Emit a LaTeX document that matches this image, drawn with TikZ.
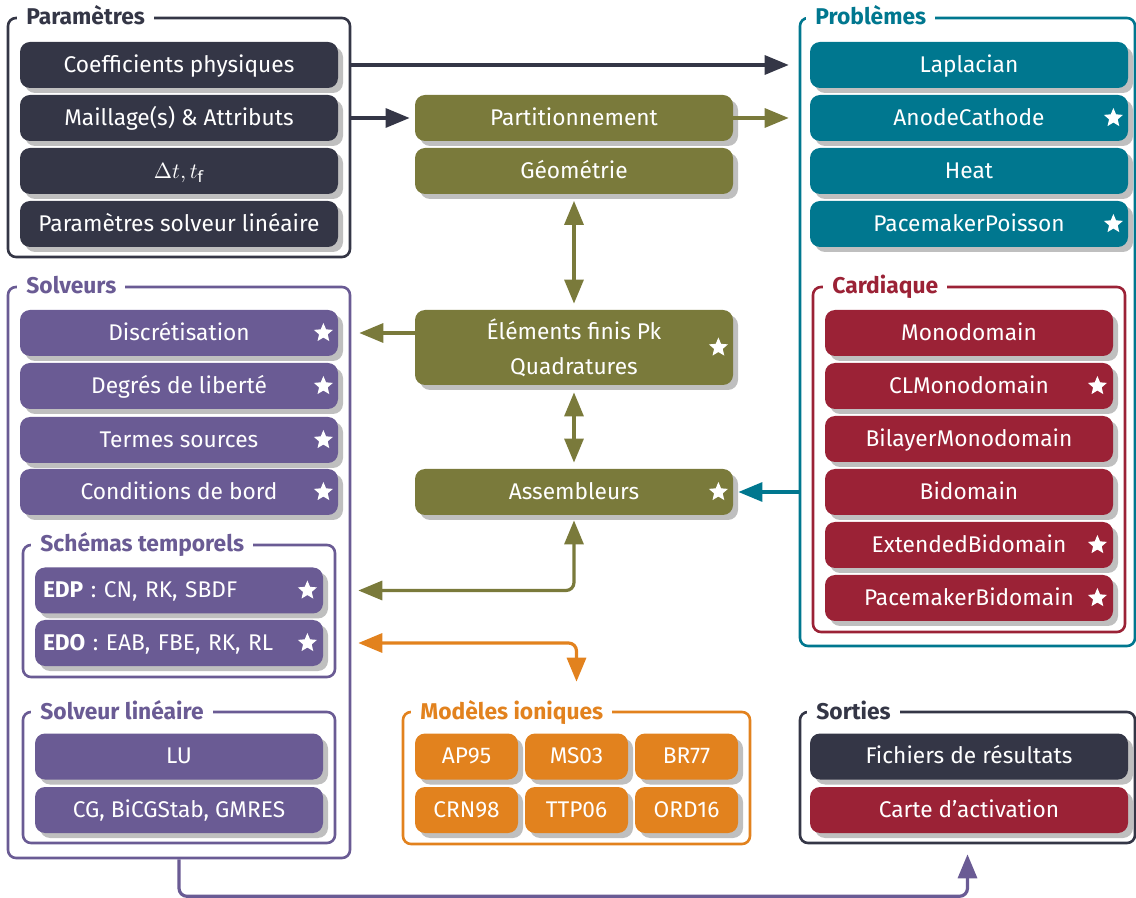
\documentclass[tikz,border=0pt]{standalone}
\usepackage{fontspec}
\setmainfont{Fira Sans}
\usetikzlibrary{shapes.geometric,shadows,arrows.meta,calc}
\definecolor{cnavy}{HTML}{343646}
\definecolor{cteal}{HTML}{00778F}
\definecolor{ccrim}{HTML}{9B2236}
\definecolor{cpurp}{HTML}{6A5B94}
\definecolor{colive}{HTML}{7A7A3B}
\definecolor{corange}{HTML}{E2821E}
\begin{document}
\begin{tikzpicture}[x=0.5pt,y=-0.5pt,
  blk/.style={rounded corners=5pt, text=white, font=\fontsize{11.35}{13.5}\selectfont,
    minimum height=23pt, inner sep=0pt, text height=9pt, text depth=1.8pt,
    drop shadow={shadow xshift=2.5pt, shadow yshift=-2.5pt, fill=black!25, opacity=1}},
  wbox/.style={blk, minimum width=159pt},
  nbox/.style={blk, minimum width=144pt},
  ibox/.style={blk, minimum width=51.5pt},
  lbox/.style={blk, minimum width=144pt, text width=136pt, inner xsep=4pt, align=left},
  frm/.style={draw, line width=1.3pt, rounded corners=4pt, inner sep=0pt},
  ftitle/.style={fill=white, font=\bfseries\fontsize{11.4}{13}\selectfont, anchor=base west,
    inner xsep=4.5pt, inner ysep=1.5pt},
  starsym/.style={star, star points=5, star point ratio=2.2, fill=white, draw=none,
    minimum size=10pt, inner sep=0pt},
  arr/.style={line width=1.6pt, -{Triangle[length=12pt,width=9.5pt]}},
  darr/.style={line width=1.6pt, {Triangle[length=12pt,width=9.5pt]}-{Triangle[length=12pt,width=9.5pt]}}
]
\useasboundingbox (0,0) rectangle (1136,898);

% ---------- frames
\node[frm, cnavy, minimum width=171pt, minimum height=119.5pt] (fparam) at (179,137.5) {};
\node[frm, cteal, minimum width=167.5pt, minimum height=314pt] (fprob) at (967.5,332) {};
\node[frm, ccrim, minimum width=156pt, minimum height=172.5pt] (fcard) at (969,459.5) {};
\node[frm, cpurp, minimum width=171pt, minimum height=285.5pt] (fsolv) at (179,572.5) {};
\node[frm, cpurp, minimum width=156pt, minimum height=66pt] (fsch) at (179,611) {};
\node[frm, cpurp, minimum width=156pt, minimum height=65.5pt] (flin) at (179,777.5) {};
\node[frm, corange, minimum width=173.5pt, minimum height=66pt] (fion) at (576.5,778) {};
\node[frm, cnavy, minimum width=167.5pt, minimum height=65.5pt] (fsort) at (967.5,777.5) {};

% ---------- Parametres
\node[wbox, fill=cnavy] (coef) at (179,65) {Coefficients physiques};
\node[wbox, fill=cnavy] (mail) at (179,118) {Maillage(s) \& Attributs};
\node[wbox, fill=cnavy] (dt) at (179,171) {$\Delta t, t_{\mathrm{f}}$};
\node[wbox, fill=cnavy] (psl) at (179,224) {Paramètres solveur linéaire};

% ---------- Problemes
\node[wbox, fill=cteal] (lap) at (969,65) {Laplacian};
\node[wbox, fill=cteal] (anod) at (969,118) {AnodeCathode};
\node[wbox, fill=cteal] (heat) at (969,171) {Heat};
\node[wbox, fill=cteal] (ppo) at (969,224) {PacemakerPoisson};

% ---------- Cardiaque
\node[nbox, fill=ccrim] (mono) at (969,333) {Monodomain};
\node[nbox, fill=ccrim] (clm) at (969,386) {CLMonodomain};
\node[nbox, fill=ccrim] (bil) at (969,439) {BilayerMonodomain};
\node[nbox, fill=ccrim] (bid) at (969,492) {Bidomain};
\node[nbox, fill=ccrim] (ext) at (969,545) {ExtendedBidomain};
\node[nbox, fill=ccrim] (pbi) at (969,598) {PacemakerBidomain};

% ---------- Solveurs
\node[wbox, fill=cpurp] (disc) at (179,333) {Discrétisation};
\node[wbox, fill=cpurp] (ddl) at (179,386) {Degrés de liberté};
\node[wbox, fill=cpurp] (src) at (179,440) {Termes sources};
\node[wbox, fill=cpurp] (cond) at (179,492) {Conditions de bord};
\node[lbox, fill=cpurp] (edp) at (179,590.5) {\textbf{EDP} : CN, RK, SBDF};
\node[lbox, fill=cpurp] (edo) at (179,643) {\textbf{EDO} : EAB, FBE, RK, RL};
\node[nbox, fill=cpurp] (lu) at (179,756.5) {LU};
\node[nbox, fill=cpurp] (cg) at (179,810) {CG, BiCGStab, GMRES};

% ---------- middle
\node[wbox, fill=colive] (part) at (574,118) {Partitionnement};
\node[wbox, fill=colive] (geo) at (574,171) {Géométrie};
\node[wbox, fill=colive, minimum height=37.5pt, text height=, text depth=, align=center,
  font=\fontsize{11.35}{17.5}\selectfont] (ef) at (574,347.5) {Éléments finis Pk\\Quadratures};
\node[wbox, fill=colive] (ass) at (574,492) {Assembleurs};

% ---------- ioniques
\node[ibox, fill=corange] (ap) at (466.5,756.5) {AP95};
\node[ibox, fill=corange] (ms) at (576.5,756.5) {MS03};
\node[ibox, fill=corange] (br) at (686.5,756.5) {BR77};
\node[ibox, fill=corange] (crn) at (466.5,810) {CRN98};
\node[ibox, fill=corange] (ttp) at (576.5,810) {TTP06};
\node[ibox, fill=corange] (ord) at (686.5,810) {ORD16};

% ---------- Sorties
\node[wbox, fill=cnavy] (fich) at (969,756.5) {Fichiers de résultats};
\node[wbox, fill=ccrim] (carte) at (969,810) {Carte d’activation};

% ---------- stars
\foreach \b in {anod,ppo,disc,ddl,src,cond,ef,ass}
  \node[starsym] (st\b) at ([xshift=-7.5pt]\b.east) {};
\foreach \b in {clm,ext,pbi,edp,edo}
  \node[starsym] (st\b) at ([xshift=-8pt]\b.east) {};

% ---------- titles
\node[ftitle, text=cnavy] (tparam) at (17,25) {Paramètres};
\node[ftitle, text=cteal] (tprob) at (806,25) {Problèmes};
\node[ftitle, text=cpurp] (tsolv) at (17,294) {Solveurs};
\node[ftitle, text=ccrim] (tcard) at (823,294) {Cardiaque};
\node[ftitle, text=cpurp] (tsch) at (31,552) {Schémas temporels};
\node[ftitle, text=cpurp] (tlin) at (31,719) {Solveur linéaire};
\node[ftitle, text=corange] (tion) at (411,719) {Modèles ioniques};
\node[ftitle, text=cnavy] (tsort) at (807,719) {Sorties};

% ---------- connectors
\draw[arr, cnavy] (coef.east -| fparam.east) -- ([xshift=-5pt]coef.east -| fprob.west);
\draw[arr, cnavy] (mail.east -| fparam.east) -- ([xshift=-2.5pt]part.west);
\draw[arr, colive] (part.east) -- ([xshift=-5pt]part.east -| fprob.west);
\draw[darr, colive, shorten <=3.25pt, shorten >=3pt] (geo.south) -- (ef.north);
\draw[darr, colive, shorten <=3.5pt, shorten >=3pt] (ef.south) -- (ass.north);
\draw[arr, colive] (disc.east -| ef.west) -- ([xshift=4pt]disc.east -| fsolv.east);
\draw[arr, cteal] (ass.east -| fprob.west) -- ([xshift=2.5pt]ass.east);
\draw[darr, colive, rounded corners=4pt] ([yshift=-2.5pt]ass.south) |- ([xshift=3.5pt]edp.east -| fsolv.east);
\draw[darr, corange, rounded corners=4pt] ([xshift=3.5pt]edo.east -| fsolv.east) -| ([yshift=14.5pt]fion.north);
\draw[arr, cpurp, rounded corners=4pt] (fsolv.south) -- ++(0,37) -| ([yshift=-5pt]fsort.south);
\end{tikzpicture}
\end{document}
